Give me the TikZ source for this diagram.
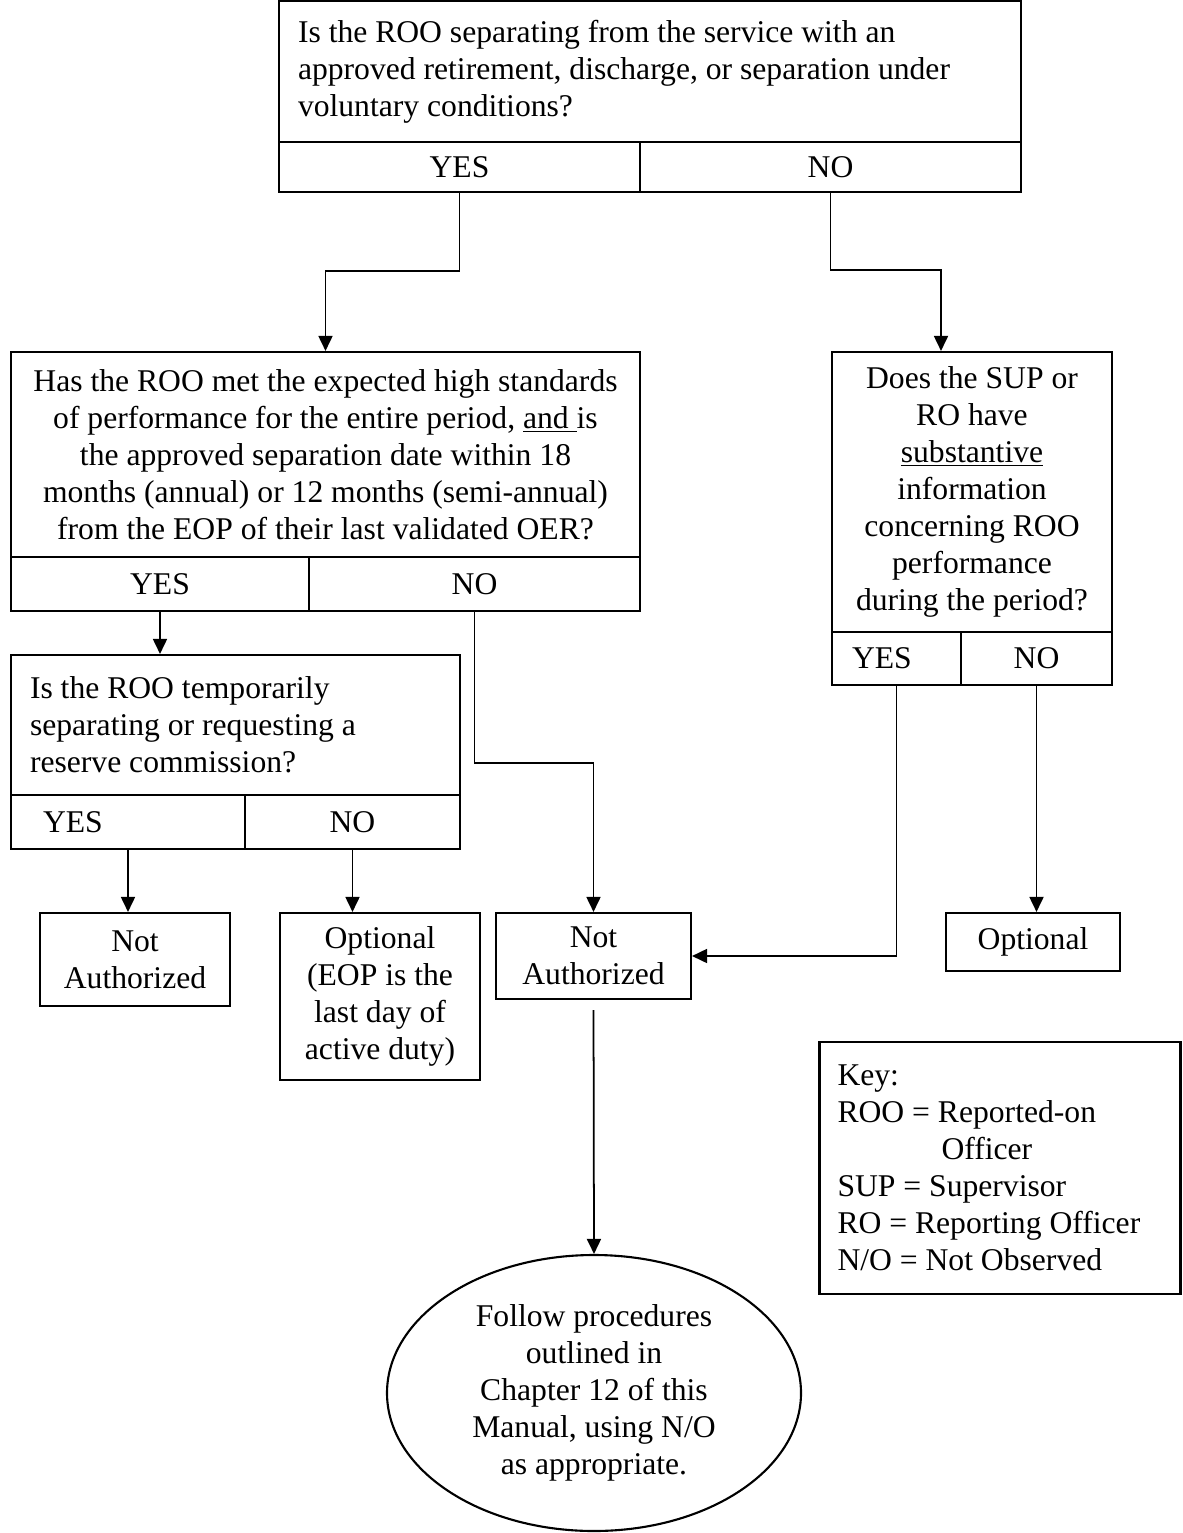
\documentclass[tikz,border=0pt]{standalone}
\usepackage{fontspec}
\setmainfont{Liberation Serif}
\usepackage{tikz}
\usetikzlibrary{arrows.meta}
\usetikzlibrary{shapes.geometric}

\tikzset{
    box/.style={rectangle, draw=black, line width=1.2pt, inner sep=0pt, align=center},
    arr/.style={line width=1pt, -{Triangle[length=0.3cm, width=0.28cm]}},
    plain/.style={line width=1pt}
}

\begin{document}
\begin{tikzpicture}[font=\fontsize{18}{21}\selectfont]
        \useasboundingbox (0, 0) rectangle (23.64, -30.66);

        \node[box, align=flush left, inner xsep=0.38cm, text width=14.08cm, minimum width=14.84cm, minimum height=2.82cm] (Q1) at (13.0, -1.43)
            {Is the ROO separating from the service with an\\approved retirement, discharge, or separation under\\voluntary conditions?};
        \node[box, minimum width=7.22cm, minimum height=1cm] (Y1) at (9.19, -3.34) {YES};
        \node[box, minimum width=7.62cm, minimum height=1cm] (N1) at (16.61, -3.34) {NO};

        \node[box, minimum width=12.58cm, minimum height=4.1cm] (Q2) at (6.51, -9.09)
            {Has the ROO met the expected high standards\\of performance for the entire period, \underline{and }is\\the approved separation date within 18\\months (annual) or 12 months (semi-annual)\\from the EOP of their last validated OER?};
        \node[box, minimum width=5.96cm, minimum height=1.08cm] (Y2) at (3.2, -11.68) {YES};
        \node[box, minimum width=6.62cm, minimum height=1.08cm] (N2) at (9.49, -11.68) {NO};

        \node[box, minimum width=5.6cm, minimum height=5.6cm] (Q3) at (19.44, -9.84)
            {Does the SUP or\\RO have\\\underline{substantive}\\information\\concerning ROO\\performance\\during the period?};
        \node[box, align=flush left, inner xsep=0.4cm, text width=1.78cm, minimum width=2.58cm, minimum height=1.06cm] (Y3) at (17.93, -13.17) {YES};
        \node[box, minimum width=3.02cm, minimum height=1.06cm] (N3) at (20.73, -13.17) {NO};

        \node[box, align=flush left, inner xsep=0.38cm, text width=8.22cm, minimum width=8.98cm, minimum height=2.8cm] (Q4) at (4.71, -14.5)
            {Is the ROO temporarily\\separating or requesting a\\reserve commission?};
        \node[box, align=flush left, inner xsep=0.64cm, text width=3.4cm, minimum width=4.68cm, minimum height=1.08cm] (Y4) at (2.56, -16.44) {YES};
        \node[box, minimum width=4.3cm, minimum height=1.08cm] (N4) at (7.05, -16.44) {NO};

        \node[box, minimum width=3.8cm, minimum height=1.86cm] (NA1) at (2.7, -19.19) {Not\\Authorized};
        \node[box, minimum width=4.0cm, minimum height=3.34cm] (OP1) at (7.6, -19.93) {Optional\\(EOP is the\\last day of\\active duty)};
        \node[box, minimum width=3.9cm, minimum height=1.72cm] (NA2) at (11.87, -19.12) {Not\\Authorized};
        \node[box, minimum width=3.48cm, minimum height=1.16cm] (OP2) at (20.66, -18.84) {Optional};

        \node[ellipse, draw=black, line width=1.2pt, inner sep=0pt, align=center, minimum width=8.28cm, minimum height=5.52cm] (F) at (11.88, -27.86)
            {Follow procedures\\outlined in\\Chapter 12 of this\\Manual, using N/O\\as appropriate.};

        \node[box, align=flush left, inner xsep=0.36cm, text width=6.5cm, minimum width=7.22cm, minimum height=5.04cm] (K) at (20.0, -23.36)
            {Key:\\ROO = Reported-on\\\hspace*{2.08cm}Officer\\SUP = Supervisor\\RO = Reporting Officer\\N/O = Not Observed};

        \coordinate (b1) at (18.82, -5.4);
        \coordinate (b2) at (11.87, -15.26);

        \draw[arr] (Y1.south) -- ++(0, -1.56) -| (Q2.north);
        \draw[arr] (N1.south) |- (b1) -- (b1 |- Q3.north);
        \draw[arr] (Y2.south) -- (Y2.south |- Q4.north);
        \draw[arr] (N2.south) |- (b2) -- (NA2.north);
        \draw[arr] (Y4.south) -- (Y4.south |- NA1.north);
        \draw[arr] (N4.south) -- (N4.south |- OP1.north);
        \draw[arr] (Y3.south) |- (NA2.east);
        \draw[arr] (N3.south) -- (N3.south |- OP2.north);
        \draw[arr, shorten <=0.2cm] (NA2.south) -- (F.north);
    \end{tikzpicture}
\end{document}
